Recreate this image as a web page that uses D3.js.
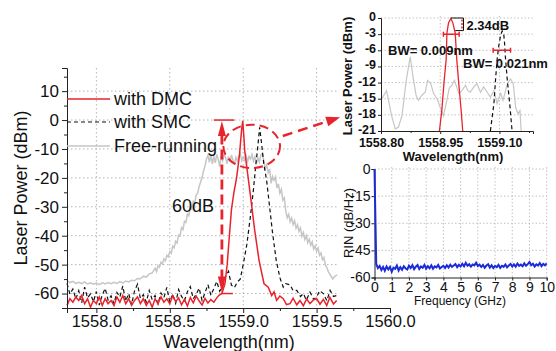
<!DOCTYPE html>
<html>
<head>
<meta charset="utf-8">
<script src="https://cdn.jsdelivr.net/npm/d3@7"></script>
<style>
  body { margin: 0; background: #fff; }
  svg { display: block; }
  text { font-family: "Liberation Sans", Arial, sans-serif; fill: #111; }
</style>
</head>
<body>
<script>
// ---- data: [wavelength (nm), power (dBm)] ----
const dmcMain = [[1557.80,-64.1],[1557.82,-61.8],[1557.84,-63.0],[1557.86,-61.2],[1557.88,-62.4],[1557.90,-60.7],[1557.92,-63.5],[1557.94,-61.8],[1557.96,-64.7],[1557.98,-62.4],[1558.00,-63.5],[1558.02,-61.2],[1558.04,-64.1],[1558.06,-61.8],[1558.08,-63.5],[1558.10,-62.4],[1558.12,-64.1],[1558.14,-61.2],[1558.16,-63.0],[1558.18,-60.7],[1558.20,-63.5],[1558.22,-61.8],[1558.24,-64.1],[1558.26,-62.4],[1558.28,-61.2],[1558.30,-63.5],[1558.32,-61.8],[1558.34,-64.1],[1558.36,-62.4],[1558.38,-64.7],[1558.40,-61.8],[1558.42,-63.5],[1558.44,-61.2],[1558.46,-63.0],[1558.48,-61.8],[1558.50,-63.5],[1558.52,-60.7],[1558.54,-62.8],[1558.56,-61.5],[1558.58,-63.9],[1558.60,-62.0],[1558.62,-64.3],[1558.64,-61.4],[1558.66,-63.2],[1558.68,-60.9],[1558.70,-62.6],[1558.72,-64.0],[1558.74,-61.7],[1558.76,-63.3],[1558.78,-62.1],[1558.80,-63.0],[1558.82,-61.5],[1558.835,-60.6],[1558.855,-60.0],[1558.876,-56.6],[1558.891,-50.0],[1558.906,-40.0],[1558.920,-31.0],[1558.937,-25.0],[1558.955,-20.0],[1558.975,-12.0],[1558.988,-4.0],[1558.997,-0.3],[1559.005,-6.0],[1559.010,-10.4],[1559.033,-19.6],[1559.056,-28.8],[1559.078,-38.0],[1559.108,-48.5],[1559.142,-56.6],[1559.171,-57.8],[1559.194,-60.7],[1559.21,-59.4],[1559.228,-62.4],[1559.25,-60.9],[1559.273,-61.8],[1559.295,-63.8],[1559.319,-63.5],[1559.34,-61.6],[1559.365,-63.9],[1559.387,-62.4],[1559.41,-64.2],[1559.432,-61.9],[1559.455,-63.5],[1559.478,-62.2],[1559.501,-61.8],[1559.523,-63.7],[1559.546,-62.0],[1559.569,-64.1],[1559.59,-61.3],[1559.615,-63.6],[1559.637,-62.4]];

const smcMain = [[1557.80,-56.5],[1557.82,-60.2],[1557.84,-58.4],[1557.86,-61.9],[1557.88,-59.0],[1557.90,-63.2],[1557.92,-57.8],[1557.94,-61.5],[1557.96,-60.1],[1557.98,-62.8],[1558.00,-59.3],[1558.02,-64.0],[1558.04,-60.5],[1558.06,-58.2],[1558.08,-62.3],[1558.10,-60.8],[1558.12,-63.5],[1558.14,-59.6],[1558.16,-61.2],[1558.18,-57.4],[1558.20,-62.6],[1558.22,-60.0],[1558.24,-63.8],[1558.26,-59.1],[1558.28,-56.8],[1558.30,-61.7],[1558.32,-60.4],[1558.34,-63.0],[1558.36,-58.9],[1558.38,-62.1],[1558.40,-60.7],[1558.42,-63.6],[1558.44,-59.8],[1558.46,-61.4],[1558.48,-57.9],[1558.50,-62.9],[1558.52,-60.2],[1558.54,-63.4],[1558.56,-58.6],[1558.58,-61.0],[1558.60,-62.5],[1558.62,-59.4],[1558.64,-57.6],[1558.66,-61.8],[1558.68,-60.3],[1558.70,-58.1],[1558.72,-62.4],[1558.74,-59.7],[1558.76,-56.9],[1558.78,-60.6],[1558.80,-58.3],[1558.82,-55.8],[1558.84,-59.2],[1558.86,-57.5],[1558.88,-54.2],[1558.90,-52.3],[1558.92,-57.1],[1558.94,-58.0],[1558.96,-56.0],[1558.98,-55.0],[1559.00,-50.0],[1559.025,-43.0],[1559.05,-33.0],[1559.07,-24.0],[1559.085,-16.0],[1559.10,-9.0],[1559.112,-2.5],[1559.125,-8.0],[1559.14,-15.0],[1559.16,-21.0],[1559.18,-30.0],[1559.20,-39.0],[1559.225,-48.5],[1559.25,-54.5],[1559.273,-57.8],[1559.29,-56.6],[1559.32,-57.0],[1559.34,-59.0],[1559.365,-58.9],[1559.39,-61.0],[1559.41,-60.0],[1559.43,-62.3],[1559.455,-59.5],[1559.48,-62.0],[1559.501,-61.2],[1559.52,-59.0],[1559.546,-60.0],[1559.57,-62.5],[1559.592,-58.9],[1559.615,-61.0],[1559.637,-60.7]];

const freeMain = [[1557.80,-55.5],[1557.82,-56.2],[1557.84,-55.8],[1557.86,-56.5],[1557.88,-56.1],[1557.90,-56.6],[1557.92,-56.0],[1557.94,-56.7],[1557.96,-56.3],[1557.98,-56.8],[1558.00,-56.4],[1558.02,-56.9],[1558.04,-56.3],[1558.06,-56.7],[1558.08,-56.2],[1558.10,-56.6],[1558.12,-56.1],[1558.14,-56.5],[1558.16,-55.9],[1558.18,-56.3],[1558.20,-55.7],[1558.22,-56.0],[1558.24,-55.4],[1558.26,-55.6],[1558.28,-54.8],[1558.30,-54.9],[1558.32,-54.0],[1558.34,-54.3],[1558.36,-53.2],[1558.38,-52.9],[1558.40,-51.2],[1558.41,-52.4],[1558.42,-50.3],[1558.43,-50.9],[1558.44,-49.2],[1558.45,-49.8],[1558.46,-48.0],[1558.47,-48.7],[1558.48,-46.8],[1558.49,-47.3],[1558.50,-45.5],[1558.51,-46.1],[1558.52,-43.6],[1558.53,-44.2],[1558.54,-41.9],[1558.55,-42.5],[1558.56,-39.8],[1558.57,-40.1],[1558.58,-37.2],[1558.59,-37.9],[1558.60,-35.0],[1558.61,-35.4],[1558.62,-32.5],[1558.63,-33.1],[1558.64,-30.2],[1558.65,-30.8],[1558.66,-28.1],[1558.67,-28.6],[1558.68,-25.9],[1558.69,-25.2],[1558.70,-23.0],[1558.71,-21.4],[1558.72,-19.8],[1558.73,-17.6],[1558.74,-15.9],[1558.75,-13.5],[1558.76,-12.2],[1558.77,-14.6],[1558.78,-12.0],[1558.79,-15.2],[1558.80,-12.5],[1558.81,-14.8],[1558.82,-11.9],[1558.83,-13.5],[1558.84,-16.2],[1558.85,-12.4],[1558.86,-14.1],[1558.87,-11.8],[1558.88,-13.0],[1558.89,-15.1],[1558.90,-12.6],[1558.91,-14.5],[1558.92,-12.1],[1558.93,-13.8],[1558.94,-15.5],[1558.95,-12.9],[1558.96,-14.3],[1558.97,-12.4],[1558.98,-11.6],[1558.99,-14.0],[1559.00,-12.8],[1559.01,-13.9],[1559.02,-12.3],[1559.03,-14.4],[1559.04,-12.6],[1559.05,-13.5],[1559.06,-11.9],[1559.07,-14.2],[1559.08,-12.7],[1559.09,-15.0],[1559.10,-13.1],[1559.11,-14.6],[1559.12,-12.2],[1559.13,-11.5],[1559.14,-13.9],[1559.15,-16.8],[1559.16,-15.5],[1559.17,-18.2],[1559.18,-16.9],[1559.19,-21.9],[1559.20,-19.5],[1559.21,-20.8],[1559.22,-19.6],[1559.23,-23.5],[1559.24,-22.1],[1559.25,-25.3],[1559.26,-24.0],[1559.27,-27.7],[1559.28,-26.9],[1559.29,-31.5],[1559.30,-33.8],[1559.31,-32.6],[1559.32,-35.2],[1559.33,-33.9],[1559.34,-36.1],[1559.35,-34.8],[1559.36,-37.4],[1559.37,-36.2],[1559.38,-38.5],[1559.39,-37.3],[1559.40,-40.2],[1559.41,-38.9],[1559.42,-41.3],[1559.43,-40.0],[1559.44,-42.4],[1559.45,-41.2],[1559.46,-43.3],[1559.47,-42.1],[1559.48,-44.6],[1559.49,-43.5],[1559.50,-45.3],[1559.51,-44.2],[1559.52,-46.8],[1559.53,-46.0],[1559.54,-48.3],[1559.55,-47.6],[1559.56,-50.2],[1559.57,-51.0],[1559.58,-52.4],[1559.59,-53.3],[1559.60,-54.1],[1559.61,-54.9],[1559.62,-54.2],[1559.63,-53.9],[1559.64,-53.5]];

// zoomed inset (top right)
const dmcZoom = [[1558.948,-21],[1558.954,-17.2],[1558.960,-11.6],[1558.965,-7.8],[1558.967,-2.8],[1558.971,-0.9],[1558.977,-0.1],[1558.982,-0.9],[1558.988,-2.8],[1558.992,-7.8],[1558.997,-12.2],[1559.003,-17.2],[1559.007,-21]];
const smcZoom = [[1559.077,-21],[1559.086,-15.9],[1559.090,-11.6],[1559.094,-7.8],[1559.098,-5.3],[1559.103,-3.2],[1559.107,-2.4],[1559.111,-3.1],[1559.113,-4.7],[1559.115,-7.2],[1559.120,-11.6],[1559.126,-15.9],[1559.132,-21]];
const freeZoom = [[1558.802,-15],[1558.814,-13.5],[1558.827,-18.2],[1558.836,-20.6],[1558.844,-20.3],[1558.853,-18.2],[1558.864,-11.6],[1558.874,-7.2],[1558.881,-10.9],[1558.889,-14.4],[1558.895,-15.3],[1558.903,-14.4],[1558.912,-13.8],[1558.918,-11.6],[1558.926,-12.2],[1558.933,-14],[1558.942,-15],[1558.950,-16.6],[1558.958,-18.2],[1558.965,-15.9],[1558.973,-13],[1558.980,-12.5],[1558.986,-11.6],[1558.997,-14],[1559.005,-13.5],[1559.014,-12.5],[1559.020,-13.5],[1559.026,-13.8],[1559.035,-12.8],[1559.043,-12.2],[1559.052,-13.8],[1559.060,-12.8],[1559.069,-13.8],[1559.077,-14.7],[1559.086,-13.5],[1559.094,-15.9],[1559.103,-14],[1559.109,-15.3],[1559.120,-12.2],[1559.128,-11.3],[1559.135,-12.2],[1559.141,-16.6],[1559.147,-17.8],[1559.152,-17.2],[1559.155,-21]];

// RIN inset (bottom right): one value per 0.1 GHz from 0 to 10 GHz
const rinValues = [0,
  -52.5,-54.8,-53.6,-55.9,-54.2,-56.3,-53.9,-55.5,-54.1,-56.8,
  -54.6,-55.2,-53.4,-56.1,-54.3,-55.7,-53.8,-54.9,-55.6,-53.5,
  -54.7,-53.2,-55.4,-54.0,-53.1,-55.3,-53.9,-54.6,-53.0,-55.1,
  -53.7,-54.9,-53.3,-55.2,-53.8,-54.4,-53.1,-55.0,-54.2,-53.6,
  -54.8,-53.2,-54.5,-52.9,-54.1,-53.4,-52.6,-54.3,-53.0,-53.9,
  -52.4,-53.8,-51.9,-53.5,-52.7,-54.0,-52.8,-53.3,-51.8,-53.6,
  -52.9,-54.2,-53.1,-54.6,-53.4,-52.7,-54.5,-53.2,-54.8,-53.6,
  -54.3,-53.0,-54.7,-53.5,-54.1,-52.8,-54.4,-53.3,-52.5,-53.9,
  -52.7,-54.0,-52.3,-53.6,-52.9,-53.8,-52.2,-53.5,-52.6,-51.4,
  -53.2,-52.4,-53.9,-52.7,-53.4,-52.0,-53.7,-52.5,-53.3,-52.2];
const rinFreq = rinValues.map((v, i) => i / 10);

const mainYTicks = [10, 0, -10, -20, -30, -40, -50, -60];
const mainXTicks = [1558.0, 1558.5, 1559.0, 1559.5, 1560.0];
const zoomYTicks = [0, -3, -6, -9, -12, -15, -18, -21];
const zoomXTicks = [1558.80, 1558.95, 1559.10];
const rinYTicks = [0, -15, -30, -45, -60];
const rinXTicks = [0, 1, 2, 3, 4, 5, 6, 7, 8, 9, 10];
const legendNames = ["with DMC", "with SMC", "Free-running"];

const W = 556, H = 351;
const RED = "#e8232b", GRAY = "#c6c6c6", BLUE = "#1c2bd6", GRID = "#b4b4b4";
const FONT = "'Liberation Sans', Arial, sans-serif";

const svg = d3.select("body").append("svg").attr("width", W).attr("height", H);
svg.append("rect").attr("width", W).attr("height", H).attr("fill", "#fff");

// ---- main plot ----
const xMain = d3.scaleLinear().domain([1557.8, 1560.0]).range([67, 390]);
const yMain = d3.scaleLinear().domain([-65, 18]).range([308, 68]);

const gridMain = svg.append("g");
gridMain.selectAll(".hg").data(mainYTicks).join("line")
  .attr("x1", 67).attr("x2", 390)
  .attr("y1", d => yMain(d)).attr("y2", d => yMain(d));
gridMain.selectAll(".vg").data(mainXTicks.slice(0, 4)).join("line")
  .attr("x1", d => xMain(d)).attr("x2", d => xMain(d))
  .attr("y1", 68).attr("y2", 308);
gridMain.selectAll("line").attr("stroke", GRID).attr("stroke-width", 1).attr("stroke-dasharray", "1.5,2.5");

const lineMain = d3.line().x(d => xMain(d[0])).y(d => yMain(d[1]));
svg.append("path").datum(freeMain).attr("d", lineMain)
  .attr("fill", "none").attr("stroke", GRAY).attr("stroke-width", 1.5);
svg.append("path").datum(smcMain).attr("d", lineMain)
  .attr("fill", "none").attr("stroke", "#111").attr("stroke-width", 1.2).attr("stroke-dasharray", "4,3");
svg.append("path").datum(dmcMain).attr("d", lineMain)
  .attr("fill", "none").attr("stroke", RED).attr("stroke-width", 1.5);

function styleAxis(g, size, weight) {
  g.select(".domain").attr("stroke", "#222");
  g.selectAll(".tick line").attr("stroke", "#222");
  g.selectAll("text").attr("font-family", FONT).attr("font-size", size)
    .attr("font-weight", weight).attr("fill", "#111");
}

const yAxisMain = svg.append("g").attr("transform", "translate(67,0)")
  .call(d3.axisLeft(yMain).tickValues(mainYTicks).tickSize(5).tickPadding(3).tickFormat(d => String(d)));
styleAxis(yAxisMain, 17, "normal");
svg.append("g").attr("transform", "translate(67,0)")
  .call(d3.axisLeft(yMain).tickValues([15, 5, -5, -15, -25, -35, -45, -55]).tickSize(3).tickFormat(""))
  .call(g => g.select(".domain").remove())
  .selectAll("line").attr("stroke", "#222");

const xAxisMain = svg.append("g").attr("transform", "translate(0,308)")
  .call(d3.axisBottom(xMain).tickValues(mainXTicks).tickSize(5).tickPadding(2).tickFormat(d3.format(".1f")));
styleAxis(xAxisMain, 16.5, "normal");
svg.append("g").attr("transform", "translate(0,308)")
  .call(d3.axisBottom(xMain).tickValues([1558.25, 1558.75, 1559.25, 1559.75]).tickSize(3).tickFormat(""))
  .call(g => g.select(".domain").remove())
  .selectAll("line").attr("stroke", "#222");

svg.append("text").attr("transform", "translate(21,188) rotate(-90)")
  .attr("text-anchor", "middle").attr("dy", "0.35em")
  .attr("font-size", 18).text("Laser Power (dBm)");
svg.append("text").attr("x", 229).attr("y", 348)
  .attr("text-anchor", "middle").attr("font-size", 18).text("Wavelength(nm)");

// legend
const legY = [99, 122, 146];
const leg = svg.append("g");
leg.selectAll("line").data(legendNames).join("line")
  .attr("x1", 67).attr("x2", 110)
  .attr("y1", (d, i) => legY[i]).attr("y2", (d, i) => legY[i])
  .attr("stroke", (d, i) => [RED, "#111", GRAY][i])
  .attr("stroke-width", (d, i) => i === 1 ? 1.2 : 1.5)
  .attr("stroke-dasharray", (d, i) => i === 1 ? "4,3" : null);
leg.selectAll("text").data(legendNames).join("text")
  .attr("x", 114).attr("y", (d, i) => legY[i]).attr("dy", "0.35em")
  .attr("font-size", 18).text(d => d);

// 60 dB annotation
const ax = xMain(1558.855);
svg.append("line").attr("x1", xMain(1558.80)).attr("x2", xMain(1558.94))
  .attr("y1", yMain(0)).attr("y2", yMain(0)).attr("stroke", RED).attr("stroke-width", 1.5);
svg.append("line").attr("x1", xMain(1558.85)).attr("x2", xMain(1558.93))
  .attr("y1", yMain(-60)).attr("y2", yMain(-60)).attr("stroke", RED).attr("stroke-width", 1.5);
svg.append("line").attr("x1", ax).attr("x2", ax)
  .attr("y1", yMain(-5)).attr("y2", yMain(-55))
  .attr("stroke", RED).attr("stroke-width", 2.8).attr("stroke-dasharray", "10,5");
const t0 = yMain(0) + 1, t1 = yMain(-60) - 1;
svg.append("path").attr("d", `M${ax},${t0} L${ax - 4},${t0 + 15} L${ax + 4},${t0 + 15} Z`).attr("fill", RED);
svg.append("path").attr("d", `M${ax},${t1} L${ax - 4},${t1 - 16} L${ax + 4},${t1 - 16} Z`).attr("fill", RED);
svg.append("text").attr("x", 172).attr("y", yMain(-29.5)).attr("dy", "0.35em")
  .attr("font-size", 18).text("60dB");

// dashed ellipse
const ecx = xMain(1559.058), ecy = yMain(-9.1);
svg.append("ellipse").attr("cx", ecx).attr("cy", ecy)
  .attr("rx", xMain(1559.251) - ecx).attr("ry", yMain(-16.6) - ecy)
  .attr("fill", "none").attr("stroke", RED).attr("stroke-width", 2).attr("stroke-dasharray", "9,5");

// ---- white panel behind the insets ----
svg.append("rect").attr("x", 338).attr("y", 0).attr("width", W - 338).attr("height", 304).attr("fill", "#fff");

// ---- inset 1: zoomed spectrum ----
const x1 = d3.scaleLinear().domain([1558.8, 1559.185]).range([381, 533]);
const y1 = d3.scaleLinear().domain([-21, 0]).range([131, 18]);

const g1 = svg.append("g");
g1.selectAll(".hg").data(zoomYTicks.slice(0, 7)).join("line")
  .attr("x1", 381).attr("x2", 533).attr("y1", d => y1(d)).attr("y2", d => y1(d));
g1.selectAll(".vg").data(zoomXTicks.slice(1)).join("line")
  .attr("x1", d => x1(d)).attr("x2", d => x1(d)).attr("y1", 16).attr("y2", 131);
g1.selectAll("line").attr("stroke", GRID).attr("stroke-dasharray", "1.5,2").attr("stroke-width", 0.8);

const line1 = d3.line().x(d => x1(d[0])).y(d => y1(d[1]));
svg.append("path").datum(freeZoom).attr("d", line1)
  .attr("fill", "none").attr("stroke", GRAY).attr("stroke-width", 1.2);
svg.append("path").datum(dmcZoom).attr("d", line1)
  .attr("fill", "none").attr("stroke", RED).attr("stroke-width", 1.3);
svg.append("path").datum(smcZoom).attr("d", line1)
  .attr("fill", "none").attr("stroke", "#111").attr("stroke-width", 1.2).attr("stroke-dasharray", "4,3");

const yAxis1 = svg.append("g").attr("transform", "translate(381,0)")
  .call(d3.axisLeft(y1).tickValues(zoomYTicks).tickSize(3).tickPadding(2).tickFormat(d => String(d)));
styleAxis(yAxis1, 12.5, "bold");
yAxis1.selectAll("text").attr("dy", "0.2em");
const xAxis1 = svg.append("g").attr("transform", "translate(0,131)")
  .call(d3.axisBottom(x1).tickValues(zoomXTicks).tickSize(3).tickPadding(4.5).tickFormat(d3.format(".2f")));
styleAxis(xAxis1, 12.5, "bold");
svg.append("g").attr("transform", "translate(0,131)")
  .call(d3.axisBottom(x1).tickValues([1558.875, 1559.025, 1559.175]).tickSize(2).tickFormat(""))
  .call(g => g.select(".domain").remove())
  .selectAll("line").attr("stroke", "#222");

svg.append("text").attr("transform", "translate(347,76) rotate(-90)")
  .attr("text-anchor", "middle").attr("dy", "0.35em")
  .attr("font-size", 13).attr("font-weight", "bold").text("Laser Power (dBm)");
svg.append("text").attr("x", 453).attr("y", 161)
  .attr("text-anchor", "middle").attr("font-size", 13).attr("font-weight", "bold").text("Wavelength(nm)");

// 2.34 dB bracket
const bx = x1(1559.009);
svg.append("path")
  .attr("d", `M${x1(1558.977)},${y1(0)} H${bx} V${y1(-2.34)} H${x1(1558.988)}`)
  .attr("fill", "none").attr("stroke", "#111").attr("stroke-width", 1);
svg.append("line").attr("x1", bx - 1.5).attr("x2", bx - 1.5)
  .attr("y1", y1(-0.3)).attr("y2", y1(-2.1))
  .attr("stroke", RED).attr("stroke-width", 1.5).attr("stroke-dasharray", "2,1.5");
svg.append("text").attr("x", bx + 3).attr("y", y1(-1.4)).attr("dy", "0.35em")
  .attr("font-size", 13).attr("font-weight", "bold").text("2.34dB");

// bandwidth markers
function bwMarker(a, b, level) {
  const yy = y1(level);
  svg.append("path")
    .attr("d", `M${x1(a)},${yy} H${x1(b)} M${x1(a)},${yy - 2.5} V${yy + 2.5} M${x1(b)},${yy - 2.5} V${yy + 2.5}`)
    .attr("fill", "none").attr("stroke", RED).attr("stroke-width", 1.5);
}
bwMarker(1558.958, 1558.998, -3);
bwMarker(1559.084, 1559.128, -6);
svg.append("text").attr("x", 388).attr("y", y1(-6)).attr("dy", "0.35em")
  .attr("font-size", 13).attr("font-weight", "bold").text("BW= 0.009nm");
svg.append("text").attr("x", 463).attr("y", y1(-8.5)).attr("dy", "0.35em")
  .attr("font-size", 13).attr("font-weight", "bold").text("BW= 0.021nm");

// ---- inset 2: RIN ----
const x2 = d3.scaleLinear().domain([0, 10]).range([374.5, 546.7]);
const y2 = d3.scaleLinear().domain([-60, 0]).range([277.5, 169]);

const g2 = svg.append("g");
g2.selectAll(".hg").data(rinYTicks.slice(0, 4)).join("line")
  .attr("x1", 374.5).attr("x2", 546.7).attr("y1", d => y2(d)).attr("y2", d => y2(d));
g2.selectAll(".vg").data(rinXTicks.slice(1)).join("line")
  .attr("x1", d => x2(d)).attr("x2", d => x2(d)).attr("y1", 167).attr("y2", 277.5);
g2.selectAll("line").attr("stroke", GRID).attr("stroke-dasharray", "1.5,2").attr("stroke-width", 0.8);

const yAxis2 = svg.append("g").attr("transform", "translate(374.5,0)")
  .call(d3.axisLeft(y2).tickValues(rinYTicks).tickSize(3).tickPadding(1).tickFormat(d => String(d)));
styleAxis(yAxis2, 14, "normal");
const xAxis2 = svg.append("g").attr("transform", "translate(0,277.5)")
  .call(d3.axisBottom(x2).tickValues(rinXTicks).tickSize(3).tickPadding(2).tickFormat(d => String(d)));
styleAxis(xAxis2, 14, "normal");

const line2 = d3.line().x((d, i) => x2(rinFreq[i])).y(d => y2(d));
svg.append("path").datum(rinValues).attr("d", line2)
  .attr("fill", "none").attr("stroke", BLUE).attr("stroke-width", 2);

svg.append("text").attr("transform", "translate(348,223) rotate(-90)")
  .attr("text-anchor", "middle").attr("dy", "0.35em")
  .attr("font-size", 13).text("RIN (dB/Hz)");
svg.append("text").attr("x", 460).attr("y", 305)
  .attr("text-anchor", "middle").attr("font-size", 12).text("Frequency (GHz)");

// ---- dashed arrow from ellipse to inset ----
const p0 = [xMain(1559.27), yMain(-5.5)], p1 = [xMain(1559.66), yMain(1.0)];
const dx = p1[0] - p0[0], dy = p1[1] - p0[1], len = Math.hypot(dx, dy);
const ux = dx / len, uy = dy / len;
svg.append("line").attr("x1", p0[0]).attr("y1", p0[1])
  .attr("x2", p1[0] - ux * 12).attr("y2", p1[1] - uy * 12)
  .attr("stroke", RED).attr("stroke-width", 2.5).attr("stroke-dasharray", "10,6");
svg.append("path")
  .attr("d", `M${p1[0]},${p1[1]} L${p1[0] - ux * 14 - uy * 5},${p1[1] - uy * 14 + ux * 5} L${p1[0] - ux * 14 + uy * 5},${p1[1] - uy * 14 - ux * 5} Z`)
  .attr("fill", RED);
</script>
</body>
</html>
